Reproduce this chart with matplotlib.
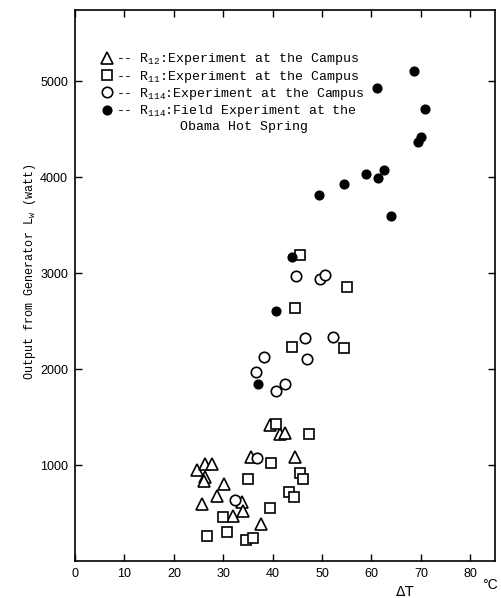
import numpy as np
import matplotlib
matplotlib.use("Agg")
import matplotlib.pyplot as plt
from matplotlib.lines import Line2D

plt.rcParams['font.family'] = ['Liberation Mono', 'DejaVu Sans Mono']
plt.rcParams['mathtext.default'] = 'regular'

# R12 : experiment at the campus (open triangles)
r12_dt = [39.5, 41.4, 42.6, 35.7, 44.5, 24.6, 26.3, 27.8, 26.4, 26.1, 30.2, 28.7, 25.8, 33.7, 33.9, 32.0, 37.6]
r12_lw = [1417, 1320, 1337, 1087, 1080, 948, 1010, 1007, 878, 833, 799, 680, 590, 618, 524, 472, 382]

# R11 : experiment at the campus (open squares)
r11_dt = [40.7, 47.3, 39.7, 35.0, 45.5, 46.1, 43.4, 44.3, 39.5, 30.0, 26.8, 30.8, 34.7, 36.0,
          45.6, 55.0, 44.6, 44.0, 54.4]
r11_lw = [1427, 1323, 1024, 851, 913, 851, 722, 663, 549, 455, 260, 299, 219, 236,
          3188, 2850, 2639, 2233, 2219]

# R114 : experiment at the campus (open circles)
r114c_dt = [36.8, 32.3, 44.8, 49.5, 50.6, 46.5, 52.3, 38.2, 47.0, 36.6, 42.5, 40.6]
r114c_lw = [1069, 635, 2969, 2937, 2979, 2320, 2337, 2128, 2104, 1965, 1840, 1771]

# R114 : field experiment at the Obama hot spring (filled circles)
r114f_dt = [68.7, 61.1, 70.8, 70.0, 69.4, 58.9, 61.3, 62.5, 54.4, 49.4, 64.0, 44.0, 40.7, 37.0]
r114f_lw = [5104, 4930, 4705, 4420, 4368, 4031, 3990, 4070, 3927, 3809, 3590, 3163, 2604, 1847]

x_ticks = [0, 10, 20, 30, 40, 50, 60, 70, 80]
y_ticks = [1000, 2000, 3000, 4000, 5000]

fig = plt.figure(figsize=(5.01, 5.98), dpi=100)
ax = fig.add_axes([75 / 501, 1 - 561 / 598, 420 / 501, 551 / 598])

ax.plot(r12_dt, r12_lw, '^', ms=8.5, mfc='white', mec='black', mew=1.2, ls='none')
ax.plot(r11_dt, r11_lw, 's', ms=7.5, mfc='white', mec='black', mew=1.2, ls='none')
ax.plot(r114c_dt, r114c_lw, 'o', ms=7.5, mfc='white', mec='black', mew=1.2, ls='none')
ax.plot(r114f_dt, r114f_lw, 'o', ms=6.3, mfc='black', mec='black', ls='none')

ax.set_xlim(0, 85)
ax.set_ylim(0, 5740)
ax.set_xticks(x_ticks)
ax.set_xticklabels([str(v) for v in x_ticks], family='Liberation Sans', fontsize=9)
ax.set_yticks(y_ticks)
ax.set_yticklabels([str(v) for v in y_ticks], family='Liberation Sans', fontsize=9)
ax.tick_params(direction='in', length=5, width=1, top=True, right=True, pad=5)
for s in ax.spines.values():
    s.set_linewidth(1.2)

# legend: the last entry runs over two lines, second line gets an empty handle
handles = [
    Line2D([], [], marker='^', ms=8.5, mfc='white', mec='black', mew=1.2, ls='none'),
    Line2D([], [], marker='s', ms=7.5, mfc='white', mec='black', mew=1.2, ls='none'),
    Line2D([], [], marker='o', ms=7.5, mfc='white', mec='black', mew=1.2, ls='none'),
    Line2D([], [], marker='o', ms=6.3, mfc='black', mec='black', ls='none'),
    Line2D([], [], ls='none'),
]
labels = [
    '-- R$_{12}$:Experiment at the Campus',
    '-- R$_{11}$:Experiment at the Campus',
    '-- R$_{114}$:Experiment at the Campus',
    '-- R$_{114}$:Field Experiment at the',
    '        Obama Hot Spring',
]
ax.legend(handles, labels, loc='upper left', bbox_to_anchor=(0.06, 0.925),
          frameon=False, handlelength=1.0, handletextpad=0.2, labelspacing=0.1,
          borderpad=0, borderaxespad=0, prop={'family': 'Liberation Mono', 'size': 9.5})

fig.text(30 / 501, 1 - 272 / 598, 'Output from Generator L$_W$ (watt)', rotation=90,
         ha='center', va='center', fontsize=8.5)
fig.text(405 / 501, 1 - 592 / 598, '$\\Delta$T', family='DejaVu Sans',
         ha='center', va='center', fontsize=10)
fig.text(490 / 501, 1 - 585 / 598, '°C', family='Liberation Sans',
         ha='center', va='center', fontsize=10)

fig.savefig('out.png', dpi=100)
